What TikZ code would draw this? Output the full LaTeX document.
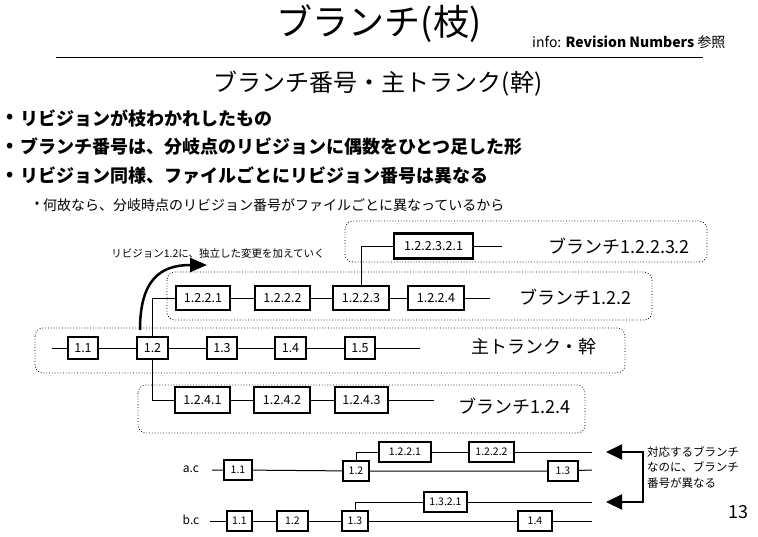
\documentclass[tikz,border=0pt]{standalone}
\usepackage{fontspec}
\setmainfont{Noto Sans CJK JP}
\usetikzlibrary{arrows.meta}

\begin{document}
\begin{tikzpicture}[x=1pt,y=-1pt,font=\fontsize{11}{11}\selectfont,
 rev/.style={draw,line width=2.2pt,inner sep=0pt,minimum height=22pt,font=\fontsize{12.5}{12.5}\selectfont},
 srev/.style={rev,minimum height=20pt,font=\fontsize{10.5}{10.5}\selectfont},
 lane/.style={draw,dotted,line width=0.8pt,rounded corners=8pt},
 link/.style={line width=1pt},
 tag/.style={inner sep=0pt,font=\fontsize{18}{18}\selectfont},
 item/.style={anchor=west,inner sep=0pt,font=\fontsize{18}{18}\selectfont\bfseries}]
 \useasboundingbox (0,0) rectangle (758,536);
 \node[inner sep=0pt,font=\fontsize{36}{36}\selectfont] (title) at (379,24) {ブランチ(枝)};
 \node[anchor=west,inner sep=0pt,font=\fontsize{14}{14}\selectfont] (info) at (532,42) {info: \textbf{Revision Numbers} 参照};
 \coordinate (ruleL) at (56,57); \coordinate (ruleR) at (703,57);
 \draw[link] (ruleL) -- (ruleR);
 \node[inner sep=0pt,font=\fontsize{24}{24}\selectfont] (sub) at (378,84) {ブランチ番号・主トランク(幹)};
 \foreach \i/\y/\t in {1/118/リビジョンが枝わかれしたもの,2/147/ブランチ番号は、分岐点のリビジョンに偶数をひとつ足した形,3/176/リビジョン同様、ファイルごとにリビジョン番号は異なる}{
  \node[inner sep=0pt,font=\fontsize{18}{18}\selectfont\bfseries] (dot\i) at (10,\y) {•};
  \node[item] (item\i) at (20,\y) {\t};
 }
 \node[inner sep=0pt,font=\fontsize{13}{13}\selectfont] (dot4) at (37,205) {•};
 \node[anchor=west,inner sep=0pt,font=\fontsize{14}{14}\selectfont] (item4) at (43,205) {何故なら、分岐時点のリビジョン番号がファイルごとに異なっているから};

 \draw[lane] (345,221) rectangle (707,262);
 \draw[lane] (167,272) rectangle (652,320);
 \draw[lane] (35,328) rectangle (625,373);
 \draw[lane] (138,385) rectangle (585,433);

 \node[rev,minimum width=30pt] (t11) at (83,348) {1.1};
 \node[rev,minimum width=31pt] (t12) at (152.5,348) {1.2};
 \node[rev,minimum width=30pt] (t13) at (222,348) {1.3};
 \node[rev,minimum width=31pt] (t14) at (290.5,348) {1.4};
 \node[rev,minimum width=30pt] (t15) at (360,348) {1.5};
 \coordinate (t0) at (52,348); \coordinate (tEnd) at (420,348);
 \draw[link] (t0) -- (t11) -- (t12) -- (t13) -- (t14) -- (t15) -- (tEnd);
 \node[tag] (trunk) at (534,347) {主トランク・幹};

 \node[rev,minimum width=54pt,minimum height=24pt] (b1) at (203,298) {1.2.2.1};
 \node[rev,minimum width=55pt,minimum height=24pt] (b2) at (282.5,298) {1.2.2.2};
 \node[rev,minimum width=56pt,minimum height=24pt] (b3) at (361,298) {1.2.2.3};
 \node[rev,minimum width=56pt,minimum height=24pt] (b4) at (436,298) {1.2.2.4};
 \coordinate (bEnd) at (490,298);
 \draw[link] (t12.north) |- (b1.west);
 \draw[link] (b1) -- (b2) -- (b3) -- (b4) -- (bEnd);
 \node[tag] (br122) at (575,297) {ブランチ1.2.2};

 \node[rev,minimum width=79pt,minimum height=25pt] (d1) at (433.5,246) {1.2.2.3.2.1};
 \coordinate (dEnd) at (502,246);
 \draw[link] (b3.north) |- (d1.west);
 \draw[link] (d1) -- (dEnd);
 \node[tag] (br12232) at (619,246) {ブランチ1.2.2.3.2};

 \node[rev,minimum width=55pt,minimum height=26pt] (c1) at (202.5,400) {1.2.4.1};
 \node[rev,minimum width=56pt,minimum height=26pt] (c2) at (282,400) {1.2.4.2};
 \node[rev,minimum width=53pt,minimum height=26pt] (c3) at (361.5,400) {1.2.4.3};
 \coordinate (cEnd) at (434,400);
 \draw[link] (t12.south) |- (c1.west);
 \draw[link] (c1) -- (c2) -- (c3) -- (cEnd);
 \node[tag] (br124) at (514,406) {ブランチ1.2.4};

 \node[inner sep=0pt,font=\fontsize{10.5}{10.5}\selectfont] (note) at (218,254) {リビジョン1.2に、独立した変更を加えていく};
 \coordinate (cs) at (140,330); \coordinate (ce) at (207,265);
 \draw[line width=2.5pt,-{Triangle[length=17pt,width=14pt]}] (cs) .. controls (140,280) and (160,265) .. (ce);

 \node[inner sep=0pt,font=\fontsize{12}{12}\selectfont] (ac) at (191,469) {a.c};
 \node[srev,minimum width=28pt] (a11) at (238,470) {1.1};
 \node[srev,minimum width=26pt] (a12) at (356,471) {1.2};
 \node[srev,minimum width=30pt] (a13) at (563,471) {1.3};
 \coordinate (a0) at (212,470); \coordinate (aEnd) at (592,470);
 \draw[link] (a0) -- (a11) -- (a12) -- (a13) -- (aEnd);
 \node[srev,minimum width=52pt] (ab1) at (405,452) {1.2.2.1};
 \node[srev,minimum width=45pt] (ab2) at (491.5,452) {1.2.2.2};
 \coordinate (abEnd) at (592,452);
 \draw[link] (a12.north) |- (ab1.west);
 \draw[link] (ab1) -- (ab2) -- (abEnd);

 \node[inner sep=0pt,font=\fontsize{12}{12}\selectfont] (bc) at (191,520) {b.c};
 \node[srev,minimum width=25pt] (b11) at (239.5,521) {1.1};
 \node[srev,minimum width=31pt] (b12) at (292.5,521) {1.2};
 \node[srev,minimum width=26pt] (b13) at (355,521) {1.3};
 \node[srev,minimum width=34pt] (b14) at (535,521) {1.4};
 \coordinate (bb0) at (210,521); \coordinate (bbEnd) at (592,521);
 \draw[link] (bb0) -- (b11) -- (b12) -- (b13) -- (b14) -- (bbEnd);
 \node[srev,minimum width=43pt] (bb1) at (445.5,502) {1.3.2.1};
 \coordinate (bbUp) at (592,502);
 \draw[link] (b13.north) |- (bb1.west);
 \draw[link] (bb1) -- (bbUp);

 \coordinate (tipA) at (606,452); \coordinate (kA) at (643,452);
 \coordinate (kB) at (643,502); \coordinate (tipB) at (606,502);
 \draw[line width=2pt,{Triangle[length=16pt,width=15pt]}-{Triangle[length=16pt,width=15pt]}] (tipA) -- (kA) -- (kB) -- (tipB);
 \node[anchor=north west,align=left,inner sep=0pt,font=\fontsize{11.5}{15.5}\selectfont] (diff) at (647,446) {対応するブランチ\\なのに、ブランチ\\番号が異なる};
 \node[inner sep=0pt,font=\fontsize{18}{18}\selectfont] (pg) at (738,512) {13};
\end{tikzpicture}
\end{document}
